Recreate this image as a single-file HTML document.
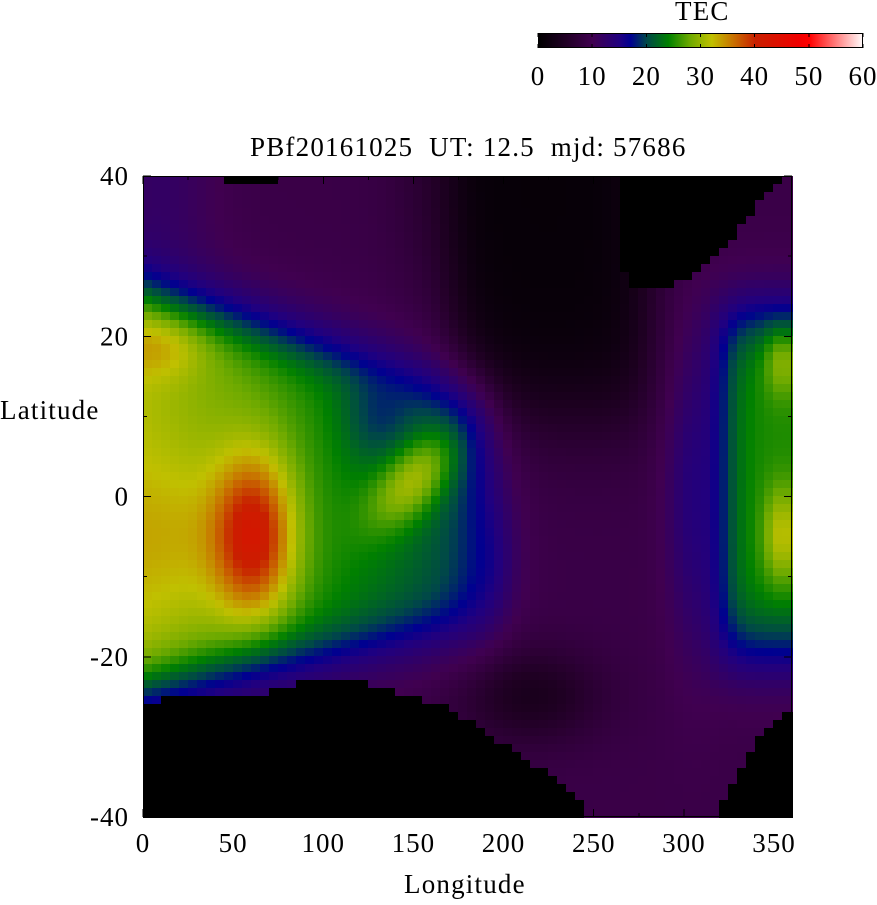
<!DOCTYPE html>
<html><head><meta charset="utf-8"><style>
body{margin:0;background:#fff;width:877px;height:900px;position:relative;overflow:hidden;font-family:"Liberation Serif",serif;}
.t{position:absolute;font-size:27px;letter-spacing:1.2px;color:#000;white-space:pre;line-height:1;}
#wrap{position:absolute;left:0;top:0;width:877px;height:900px;}
</style></head><body>
<div id="wrap"></div>
<div class="t" style="left:675px;top:-2px">TEC</div>
<div class="t" style="left:250px;top:134px">PBf20161025  UT: 12.5  mjd: 57686</div>
<div class="t" style="left:0px;top:397px">Latitude</div>
<div class="t" style="left:404px;top:871px">Longitude</div>
<script>
var stops=[[0,[0,0,0]],[5,[32,0,36]],[10,[64,0,80]],[15,[32,0,128]],[17,[0,0,144]],[20,[0,72,72]],[24,[0,128,0]],[28,[110,170,0]],[32,[192,192,0]],[36,[200,112,0]],[40,[200,32,0]],[48,[240,0,0]],[50,[255,0,0]],[60,[255,255,255]]];
function cmap(v){
  v=Math.max(0,Math.min(60,v));
  for(var i=1;i<stops.length;i++){
    if(v<=stops[i][0]){
      var a=stops[i-1],bb=stops[i];var t=(v-a[0])/(bb[0]-a[0]);
      var r=Math.round(a[1][0]+(bb[1][0]-a[1][0])*t),gg=Math.round(a[1][1]+(bb[1][1]-a[1][1])*t),b2=Math.round(a[1][2]+(bb[1][2]-a[1][2])*t);
      return 'rgb('+r+','+gg+','+b2+')';
    }
  }
  return 'rgb(255,255,255)';
}
function g(x,c,w){var d=(x-c)/w;return Math.exp(-d*d);}
function s(x){return 1/(1+Math.exp(-x));}
function pl(pts,x){for(var i=1;i<pts.length;i++){if(x<=pts[i][0]){var a=pts[i-1],b=pts[i];return a[1]+(b[1]-a[1])*(x-a[0])/(b[0]-a[0]);}}return pts[pts.length-1][1];}
var BB=[[0,-26],[20,-25],[50,-25.5],[60,-25],[75,-24],[90,-23],[120,-23],[135,-24],[150,-25],[165,-26],[180,-28],[200,-31],[220,-34],[240,-37],[248,-40],[320,-40],[322,-38],[330,-35],[340,-31],[350,-28],[360,-26]];
var TB=[[0,41],[45,41],[48,39],[72,39],[75,41],[265,41],[268,25.5],[290,26],[300,27],[310,28],[320,30],[330,33],[340,36],[350,38],[355,40],[360,41]];
function f(L,p){
 if(p<pl(BB,L)||p>pl(TB,L))return 0;
 var P=9-8*s((L-172)/8)*s((280-L)/8)*s((p-10)/4)-2*g(L,160,25)*s((p-28)/4)+5*g(L,305,15)*g(p,0,20)+5*g(L,190,15)*g(p,-8,8)-5*g(L,215,40)*g(p,-25,6)+3*g(L,10,30)*s((p-28)/3);
 var T=25-0.08*L,B=-23+0.05*L;
 var m2=s((p-(B-4))/2.5)*s(((T+4)-p)/2.5)*s((195-L)/8);
 var v=P+(16-P)*m2;
 var m=s((p-B)/2)*s((T-p)/2)*s((183-L)/8);
 var V=31-0.06*L+4*g(L,10,25)*g(p,19,4)+3*g(L,20,40)*g(p,-5,10)+14*g(L,62,22)*g(p,-5,10)+9*g(L,152,25)*g(p,-5+(L-100)*0.14,5)-4*g(L,130,20)*g(p,10,6);
 v=v+(V-v)*m;
 var mR2=s((L-315)/5)*s((p+22)/2.5)*s((24-p)/2.5);
 v=v+(16-v)*mR2;
 var mR=s((L-326)/5)*s((p+17)/2.5)*s((21-p)/2.5);
 var VR=25+7*g(L,355,10)*(g(p,18,5)+g(p,-5,6));
 v=v+(VR-v)*mR;
 return v;
}
var h='<svg xmlns="http://www.w3.org/2000/svg" width="877" height="900" shape-rendering="crispEdges">';
var cw=649/72,ch=641/80,i,j,k;
for(i=0;i<72;i++){for(j=0;j<80;j++){
  var L=i*5+2.5,p=40-j-0.5;
  var x0=143+Math.floor(i*cw),y0=176+Math.floor(j*ch);
  h+='<rect x="'+x0+'" y="'+y0+'" width="'+(Math.ceil(cw)+1)+'" height="'+(Math.ceil(ch)+1)+'" fill="'+cmap(f(L,p))+'"/>';
}}
for(k=0;k<325;k++){h+='<rect x="'+(538+k)+'" y="33" width="1.5" height="15" fill="'+cmap(k/325*60)+'"/>';}
h+='<rect x="143.5" y="176.5" width="648" height="640" fill="none" stroke="#000" stroke-width="1"/>';
h+='<rect x="538.5" y="33.5" width="324" height="14" fill="none" stroke="#000"/>';
var TF='font-size="27" letter-spacing="1" font-family="Liberation Serif"';
for(k=0;k<=6;k++){var x=538+k*325/6;h+='<line x1="'+x+'" y1="33" x2="'+x+'" y2="37" stroke="#000"/><line x1="'+x+'" y1="44" x2="'+x+'" y2="48" stroke="#000"/><text x="'+x+'" y="85" '+TF+' text-anchor="middle">'+(k*10)+'</text>';}
for(var Lt=0;Lt<=360;Lt+=25){var xx=143+Lt*649/360;var len=(Lt%50==0)?8:4;h+='<line x1="'+xx+'" y1="817" x2="'+xx+'" y2="'+(817-len)+'" stroke="#000"/><line x1="'+xx+'" y1="176" x2="'+xx+'" y2="'+(176+len)+'" stroke="#000"/>';if(Lt%50==0&&Lt<=350)h+='<text x="'+xx+'" y="852" '+TF+' text-anchor="middle">'+Lt+'</text>';}
for(var pt=-40;pt<=40;pt+=10){var y=176+(40-pt)*641/80;var ln=(pt%20==0)?8:4;h+='<line x1="143" y1="'+y+'" x2="'+(143+ln)+'" y2="'+y+'" stroke="#000"/><line x1="792" y1="'+y+'" x2="'+(792-ln)+'" y2="'+y+'" stroke="#000"/>';if(pt%20==0)h+='<text x="129" y="'+(y+9)+'" '+TF+' text-anchor="end">'+pt+'</text>';}
h+='</svg>';
document.getElementById('wrap').innerHTML=h;
</script>
</body></html>
